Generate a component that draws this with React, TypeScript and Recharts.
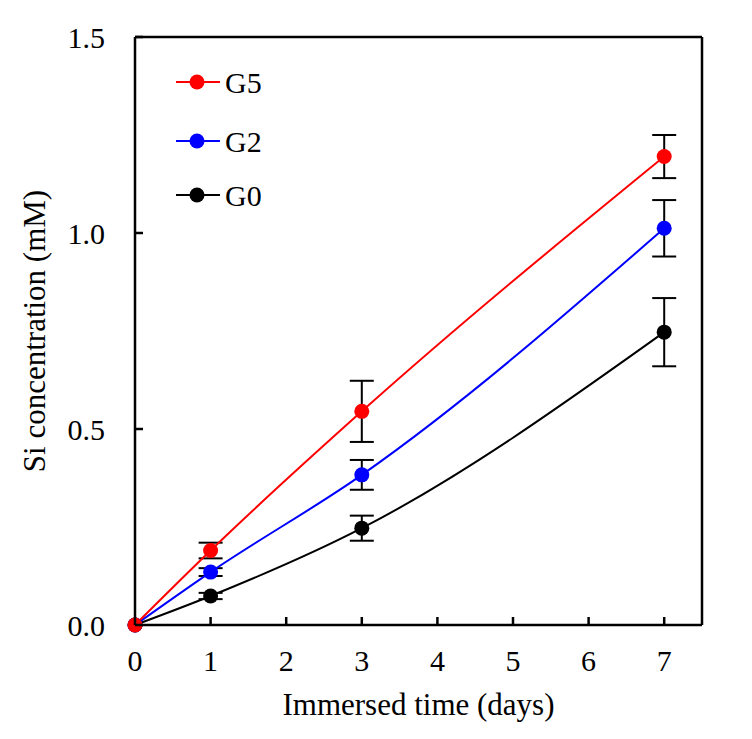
import React from "react";
import {
  LineChart,
  Line,
  XAxis,
  YAxis,
  ErrorBar,
  ReferenceLine,
  Legend,
} from "recharts";

const days = [0, 1, 3, 7];
const g5 = [0, 0.19, 0.545, 1.195];
const g5Err = [0, 0.02, 0.078, 0.055];
const g2 = [0, 0.135, 0.383, 1.012];
const g2Err = [0, 0.01, 0.038, 0.072];
const g0 = [0, 0.074, 0.247, 0.747];
const g0Err = [0, 0.008, 0.032, 0.087];

const xTicks = [0, 1, 2, 3, 4, 5, 6, 7];
const yTicks = [0, 0.5, 1.0, 1.5];

const seriesInfo = [
  { key: "g5", name: "G5", color: "#ff0000" },
  { key: "g2", name: "G2", color: "#0000ff" },
  { key: "g0", name: "G0", color: "#000000" },
];

const data = days.map((d, i) => ({
  day: d,
  g5: g5[i],
  g5Err: g5Err[i],
  g2: g2[i],
  g2Err: g2Err[i],
  g0: g0[i],
  g0Err: g0Err[i],
}));

const FONT = "'Liberation Serif', 'Times New Roman', serif";
const X_MARGIN = 25;
const Y_MARGIN = 30;
const TICK_LEN = 8;

function XTick(props: any) {
  const { x, y, payload } = props;
  const axisY = y - X_MARGIN;
  return (
    <g>
      <line x1={x} x2={x} y1={axisY} y2={axisY - TICK_LEN} stroke="#000" strokeWidth={2.5} />
      <text x={x} y={y} dy="0.71em" textAnchor="middle" fontSize={30} fontFamily={FONT} fill="#000">
        {payload.value}
      </text>
    </g>
  );
}

function YTick(props: any) {
  const { x, y, payload } = props;
  const axisX = x + Y_MARGIN;
  return (
    <g>
      <line x1={axisX} x2={axisX + TICK_LEN} y1={y} y2={y} stroke="#000" strokeWidth={2.5} />
      <text x={x} y={y} dy="0.355em" textAnchor="end" fontSize={30} fontFamily={FONT} fill="#000">
        {Number(payload.value).toFixed(1)}
      </text>
    </g>
  );
}

function LegendBox() {
  return (
    <svg width={130} height={150}>
      {seriesInfo.map((s, i) => {
        const cy = [15, 74, 128][i];
        return (
          <g key={s.key}>
            <line x1={0} x2={44} y1={cy} y2={cy} stroke={s.color} strokeWidth={2} />
            <circle cx={21} cy={cy} r={7.5} fill={s.color} />
            <text x={49} y={cy} dy="0.355em" fontSize={30} fontFamily={FONT} fill="#000">
              {s.name}
            </text>
          </g>
        );
      })}
    </svg>
  );
}

export default function App() {
  return (
    <div style={{ width: 740, height: 725, fontFamily: FONT }}>
      <LineChart
        width={740}
        height={725}
        data={data}
        margin={{ top: 29, right: 46, left: 0, bottom: 0 }}
      >
        <XAxis
          dataKey="day"
          type="number"
          domain={[0, 7.5]}
          ticks={xTicks}
          height={108}
          tickLine={false}
          tickSize={0}
          tickMargin={X_MARGIN}
          tick={<XTick />}
          axisLine={{ stroke: "#000", strokeWidth: 2.5 }}
          label={{
            value: "Immersed time (days)",
            position: "insideBottom",
            offset: 18,
            style: { fontSize: 31, fill: "#000", fontFamily: FONT },
          }}
        />
        <YAxis
          type="number"
          domain={[0, 1.5]}
          ticks={yTicks}
          width={127}
          tickLine={false}
          tickSize={0}
          tickMargin={Y_MARGIN}
          tick={<YTick />}
          axisLine={{ stroke: "#000", strokeWidth: 2.5 }}
          label={{
            value: "Si concentration (mM)",
            angle: -90,
            position: "insideLeft",
            offset: 26,
            style: { fontSize: 31, fill: "#000", fontFamily: FONT, textAnchor: "middle" },
          }}
        />
        <ReferenceLine y={1.5} stroke="#000" strokeWidth={2.5} />
        <ReferenceLine x={7.5} stroke="#000" strokeWidth={2.5} />
        <Legend
          layout="vertical"
          align="center"
          verticalAlign="middle"
          content={<LegendBox />}
          wrapperStyle={{ position: "absolute", top: 59, left: 168, width: 130, height: 150 }}
        />
        {[...seriesInfo].reverse().map((s) => (
          <Line
            key={s.key}
            type="monotone"
            dataKey={s.key}
            name={s.name}
            stroke={s.color}
            strokeWidth={2}
            dot={{ r: 7.5, fill: s.color, stroke: s.color, strokeWidth: 0 }}
            activeDot={false}
            isAnimationActive={false}
          >
            <ErrorBar
              dataKey={`${s.key}Err`}
              direction="y"
              width={12}
              stroke="#000"
              strokeWidth={2}
            />
          </Line>
        ))}
      </LineChart>
    </div>
  );
}
